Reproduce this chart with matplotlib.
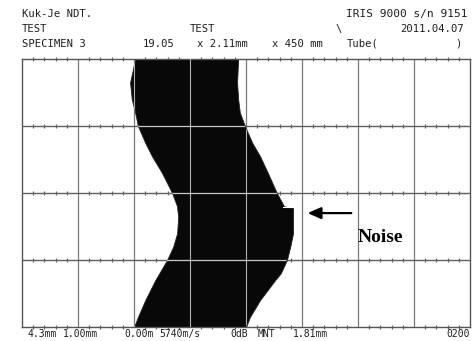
import numpy as np
import matplotlib
matplotlib.use("Agg")
import matplotlib.pyplot as plt

# scan position (grid divisions, 0 = top) and wall edges (grid divisions)
scan_pos = [0.0, 0.35, 0.6, 0.8, 1.0, 1.25, 1.45, 1.7, 2.0, 2.2, 2.22, 2.35,
            2.6, 2.8, 3.0, 3.2, 3.3, 3.6, 3.85, 4.0]
wall_left = [2.02, 1.93, 1.96, 2.02, 2.07, 2.20, 2.32, 2.50, 2.68, 2.77, 2.77, 2.79,
             2.77, 2.70, 2.59, 2.45, 2.38, 2.20, 2.07, 2.00]
wall_right = [3.86, 3.84, 3.86, 3.89, 3.98, 4.11, 4.25, 4.39, 4.55, 4.68, 4.84, 4.84,
              4.84, 4.79, 4.73, 4.62, 4.52, 4.25, 4.07, 4.00]

header_left = ["Kuk-Je NDT.", "TEST", "SPECIMEN 3"]
footer = [("4.3mm", 28), ("1.00mm", 63), ("0.00m", 124), ("5740m/s", 159),
          ("0dB", 230), ("MNT", 258), ("1.81mm", 293)]

W, H = 472, 341
fig = plt.figure(figsize=(W / 100, H / 100), dpi=100)
fig.patch.set_facecolor("white")
ax = fig.add_axes([22 / W, (H - 327) / H, 448 / W, 268 / H])
ax.set_xlim(0, 8)
ax.set_ylim(4, 0)
ax.set_xticks([])
ax.set_yticks([])
for s in ax.spines.values():
    s.set_color("#555555")
    s.set_linewidth(1.0)

# dark grid under the echo
for gx in range(1, 8):
    ax.axvline(gx, color="#7a7a7a", lw=0.9, zorder=1)
for gy in range(1, 4):
    ax.axhline(gy, color="#606060", lw=1.0, zorder=1)
minor = [k * 0.2 for k in range(41) if k % 5 != 0]
for gy in range(0, 5):
    ax.plot(minor, [gy] * len(minor), ls="none", marker="|", ms=3.5,
            mew=0.9, color="#666666", zorder=1, clip_on=False)

# B-scan wall thickness shadow
poly = ax.fill_betweenx(scan_pos, wall_left, wall_right, color="#080808",
                        lw=0.6, edgecolor="#202020", zorder=2)

# light grid drawn over the black area
for gx in range(1, 8):
    ln = ax.axvline(gx, color="#b0b0b0", lw=0.8, zorder=3)
    ln.set_clip_path(poly.get_paths()[0], ax.transData)
for gy in range(1, 4):
    ln = ax.axhline(gy, color="#c8c8c8", lw=0.9, zorder=3)
    ln.set_clip_path(poly.get_paths()[0], ax.transData)

# noise spike and annotation
ax.plot([4.66, 4.84], [2.21, 2.21], color="white", lw=0.8, zorder=3)
ax.annotate("", xy=(5.05, 2.30), xytext=(5.93, 2.30),
            arrowprops=dict(arrowstyle="-|>,head_length=0.8,head_width=0.35",
                            color="black", lw=1.6), zorder=5)
ax.text(6.0, 2.66, "Noise", fontsize=14, fontweight="bold",
        family="Liberation Serif", va="center", ha="left", zorder=5)

mono = dict(family="DejaVu Sans Mono", color="#1e1e1e", va="center")

def ftext(x, y, s, ha="left", size=7.6):
    fig.text(x / W, 1 - y / H, s, ha=ha, fontsize=size, **mono)

for i, s in enumerate(header_left):
    ftext(22, 14 + i * 15, s)
ftext(468, 14, "IRIS 9000 s/n 9151", ha="right", size=8)
ftext(190, 29, "TEST")
ftext(335, 29, "\\")
ftext(464, 29, "2011.04.07", ha="right")
ftext(143, 44, "19.05")
ftext(197, 44, "x 2.11mm")
ftext(272, 44, "x 450 mm")
ftext(347, 44, "Tube(")
ftext(455, 44, ")")
for s, x in footer:
    ftext(x, 334, s, size=7)
ftext(470, 334, "0200", ha="right", size=7)

fig.savefig("out.png", dpi=100)
